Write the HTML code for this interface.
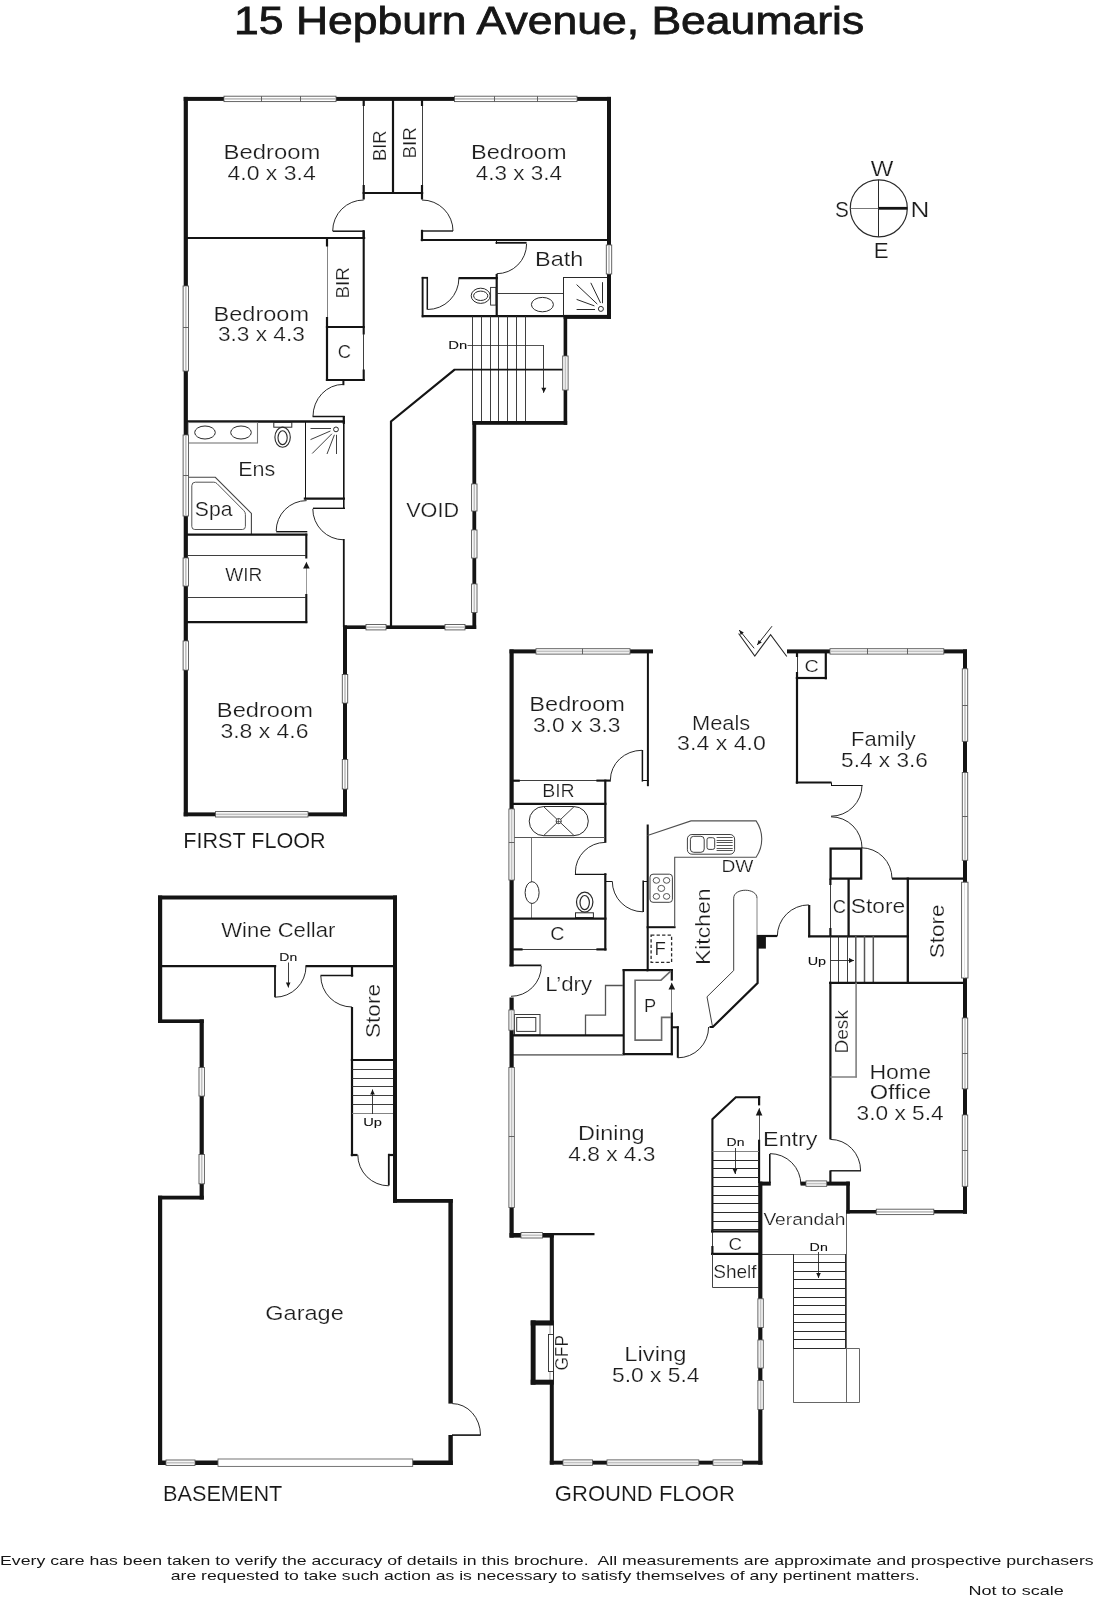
<!DOCTYPE html>
<html><head><meta charset="utf-8"><title>15 Hepburn Avenue, Beaumaris</title>
<style>
html,body{margin:0;padding:0;background:#fff;}
body{width:1096px;height:1600px;overflow:hidden;font-family:"Liberation Sans",sans-serif;}
svg{display:block;font-family:"Liberation Sans",sans-serif;filter:grayscale(1);}
</style></head><body>
<svg width="1096" height="1600" viewBox="0 0 1096 1600">
<rect x="0" y="0" width="1096" height="1600" fill="#fff"/>
<g>
<line x1="363.5" y1="100" x2="363.5" y2="193" stroke="#2a2a2a" stroke-width="1" stroke-linecap="butt" stroke-opacity="0.9"/>
<line x1="363.7" y1="185" x2="363.7" y2="199.5" stroke="#141414" stroke-width="2.2" stroke-linecap="butt"/>
<line x1="363.7" y1="100" x2="363.7" y2="106" stroke="#141414" stroke-width="2.2" stroke-linecap="butt"/>
<line x1="393" y1="100" x2="393" y2="193" stroke="#141414" stroke-width="2.2" stroke-linecap="butt"/>
<line x1="422.5" y1="100" x2="422.5" y2="193" stroke="#2a2a2a" stroke-width="1" stroke-linecap="butt" stroke-opacity="0.9"/>
<line x1="422" y1="185" x2="422" y2="199.5" stroke="#141414" stroke-width="2.2" stroke-linecap="butt"/>
<line x1="422" y1="100" x2="422" y2="106" stroke="#141414" stroke-width="2.2" stroke-linecap="butt"/>
<line x1="362.6" y1="193" x2="423.2" y2="193" stroke="#141414" stroke-width="2.2" stroke-linecap="butt"/>
<path d="M363.7 200 A31 31 0 0 0 332.7 231" fill="none" stroke="#2a2a2a" stroke-width="1" stroke-linejoin="miter"/>
<line x1="332.7" y1="231.2" x2="364" y2="231.2" stroke="#141414" stroke-width="1.5" stroke-linecap="butt"/>
<line x1="363.7" y1="230.4" x2="363.7" y2="239" stroke="#141414" stroke-width="2.2" stroke-linecap="butt"/>
<line x1="187" y1="238" x2="365.2" y2="238" stroke="#141414" stroke-width="2.2" stroke-linecap="butt"/>
<line x1="327.5" y1="238" x2="327.5" y2="327" stroke="#777" stroke-width="1" stroke-linecap="butt" stroke-opacity="0.9"/>
<line x1="327" y1="238" x2="327" y2="246.5" stroke="#141414" stroke-width="2.2" stroke-linecap="butt"/>
<line x1="327" y1="317" x2="327" y2="381" stroke="#141414" stroke-width="2.2" stroke-linecap="butt"/>
<line x1="363.7" y1="230.4" x2="363.7" y2="334.5" stroke="#141414" stroke-width="2.1" stroke-linecap="butt"/>
<line x1="363.5" y1="334" x2="363.5" y2="370" stroke="#2a2a2a" stroke-width="1" stroke-linecap="butt" stroke-opacity="0.9"/>
<line x1="363.7" y1="369.5" x2="363.7" y2="381" stroke="#141414" stroke-width="2.1" stroke-linecap="butt"/>
<line x1="325.9" y1="327" x2="364.7" y2="327" stroke="#141414" stroke-width="2.1" stroke-linecap="butt"/>
<line x1="325.9" y1="380" x2="364.7" y2="380" stroke="#141414" stroke-width="2.1" stroke-linecap="butt"/>
<line x1="343.4" y1="380" x2="343.4" y2="385.2" stroke="#141414" stroke-width="2" stroke-linecap="butt"/>
<path d="M343.2 384.4 A30.2 32 0 0 0 313 416.4" fill="none" stroke="#2a2a2a" stroke-width="1" stroke-linejoin="miter"/>
<line x1="312.6" y1="416.6" x2="344.6" y2="416.6" stroke="#141414" stroke-width="1.5" stroke-linecap="butt"/>
<line x1="187" y1="421.4" x2="345" y2="421.4" stroke="#141414" stroke-width="2.5" stroke-linecap="butt"/>
<line x1="343.8" y1="416" x2="343.8" y2="424" stroke="#141414" stroke-width="2.2" stroke-linecap="butt"/>
<path d="M422 200 A31 31 0 0 1 453 231" fill="none" stroke="#2a2a2a" stroke-width="1" stroke-linejoin="miter"/>
<line x1="422" y1="231" x2="453" y2="231" stroke="#141414" stroke-width="1.4" stroke-linecap="butt"/>
<line x1="422" y1="229.8" x2="422" y2="241.2" stroke="#141414" stroke-width="2.2" stroke-linecap="butt"/>
<line x1="420.8" y1="240" x2="608" y2="240" stroke="#141414" stroke-width="2.2" stroke-linecap="butt"/>
<line x1="495.5" y1="242.8" x2="526.6" y2="242.8" stroke="#141414" stroke-width="1.8" stroke-linecap="butt"/>
<line x1="496.5" y1="240" x2="496.5" y2="244" stroke="#141414" stroke-width="1" stroke-linecap="butt" stroke-opacity="1"/>
<path d="M526.6 243.8 A29.9 29.9 0 0 1 496.7 273.7" fill="none" stroke="#2a2a2a" stroke-width="1" stroke-linejoin="miter"/>
<line x1="496.7" y1="274" x2="496.7" y2="317" stroke="#141414" stroke-width="2.2" stroke-linecap="butt"/>
<line x1="422.6" y1="276.9" x2="422.6" y2="317.3" stroke="#141414" stroke-width="1.9" stroke-linecap="butt"/>
<line x1="421.7" y1="277.8" x2="428" y2="277.8" stroke="#141414" stroke-width="1.8" stroke-linecap="butt"/>
<line x1="427.3" y1="277" x2="427.3" y2="309.6" stroke="#141414" stroke-width="1.5" stroke-linecap="butt"/>
<line x1="421.7" y1="316.1" x2="607.5" y2="316.1" stroke="#141414" stroke-width="2.2" stroke-linecap="butt"/>
<line x1="458.5" y1="278.1" x2="497.8" y2="278.1" stroke="#141414" stroke-width="2.2" stroke-linecap="butt"/>
<path d="M458.9 278.1 A31.4 31.4 0 0 1 427.5 309.5" fill="none" stroke="#2a2a2a" stroke-width="1" stroke-linejoin="miter"/>
<rect x="490.6" y="287.4" width="5.4" height="17.7" fill="none" stroke="#2a2a2a" stroke-width="0.9" rx="0"/>
<ellipse cx="480.7" cy="295.8" rx="9.5" ry="7.6" fill="none" stroke="#2a2a2a" stroke-width="1"/>
<ellipse cx="480.7" cy="295.8" rx="7.1" ry="4.7" fill="none" stroke="#2a2a2a" stroke-width="1"/>
<line x1="496" y1="293.5" x2="563.8" y2="293.5" stroke="#2a2a2a" stroke-width="1" stroke-linecap="butt" stroke-opacity="0.9"/>
<ellipse cx="542.4" cy="304.6" rx="11" ry="7.2" fill="none" stroke="#2a2a2a" stroke-width="1"/>
<line x1="563.5" y1="277" x2="563.5" y2="316" stroke="#2a2a2a" stroke-width="1" stroke-linecap="butt" stroke-opacity="1"/>
<line x1="563.4" y1="277.5" x2="607.3" y2="277.5" stroke="#2a2a2a" stroke-width="1" stroke-linecap="butt" stroke-opacity="1"/>
<ellipse cx="600.9" cy="308.9" rx="2.5" ry="2.5" fill="none" stroke="#2a2a2a" stroke-width="1"/>
<line x1="576.6" y1="284.6" x2="597.3" y2="304.1" stroke="#2a2a2a" stroke-width="1" stroke-linecap="butt"/>
<line x1="590.8" y1="282.8" x2="600.5" y2="302.9" stroke="#2a2a2a" stroke-width="1" stroke-linecap="butt"/>
<line x1="602.5" y1="282.2" x2="602.5" y2="303.2" stroke="#2a2a2a" stroke-width="1" stroke-linecap="butt" stroke-opacity="1"/>
<line x1="576.6" y1="299.4" x2="594.4" y2="305.9" stroke="#2a2a2a" stroke-width="1" stroke-linecap="butt"/>
<line x1="576.6" y1="309.5" x2="595" y2="309.5" stroke="#2a2a2a" stroke-width="1" stroke-linecap="butt" stroke-opacity="1"/>
<line x1="472.5" y1="316" x2="472.5" y2="421.5" stroke="#2a2a2a" stroke-width="1" stroke-linecap="butt" stroke-opacity="0.9"/>
<line x1="481.5" y1="316" x2="481.5" y2="421.5" stroke="#2a2a2a" stroke-width="1" stroke-linecap="butt" stroke-opacity="0.9"/>
<line x1="490.5" y1="316" x2="490.5" y2="421.5" stroke="#2a2a2a" stroke-width="1" stroke-linecap="butt" stroke-opacity="0.9"/>
<line x1="498.5" y1="316" x2="498.5" y2="421.5" stroke="#2a2a2a" stroke-width="1" stroke-linecap="butt" stroke-opacity="0.9"/>
<line x1="507.5" y1="316" x2="507.5" y2="421.5" stroke="#2a2a2a" stroke-width="1" stroke-linecap="butt" stroke-opacity="0.9"/>
<line x1="516.5" y1="316" x2="516.5" y2="421.5" stroke="#2a2a2a" stroke-width="1" stroke-linecap="butt" stroke-opacity="0.9"/>
<line x1="525.5" y1="316" x2="525.5" y2="421.5" stroke="#2a2a2a" stroke-width="1" stroke-linecap="butt" stroke-opacity="0.9"/>
<line x1="454" y1="369.6" x2="563.6" y2="369.6" stroke="#141414" stroke-width="1.6" stroke-linecap="butt"/>
<line x1="467.5" y1="345.5" x2="543.8" y2="345.5" stroke="#2a2a2a" stroke-width="1" stroke-linecap="butt" stroke-opacity="0.8"/>
<line x1="543.5" y1="345.2" x2="543.5" y2="392.8" stroke="#2a2a2a" stroke-width="1" stroke-linecap="butt" stroke-opacity="0.9"/>
<polygon points="543.8,392.8 541.3,387.8 546.3,387.8" fill="#181818"/>
<path d="M454.6 369.6 L391 421.5 L391 626" fill="none" stroke="#141414" stroke-width="2.2" stroke-linejoin="miter"/>
<rect x="188" y="422.5" width="69.5" height="20.5" fill="none" stroke="#777" stroke-width="1.1" rx="0"/>
<ellipse cx="205" cy="432.5" rx="10.3" ry="6.5" fill="none" stroke="#2a2a2a" stroke-width="1"/>
<ellipse cx="241" cy="432.5" rx="10.3" ry="6.5" fill="none" stroke="#2a2a2a" stroke-width="1"/>
<rect x="273.8" y="422.3" width="18" height="4.9" fill="none" stroke="#2a2a2a" stroke-width="1" rx="0"/>
<ellipse cx="282.6" cy="437.2" rx="7.7" ry="10.1" fill="none" stroke="#2a2a2a" stroke-width="1.1"/>
<ellipse cx="282.6" cy="437.7" rx="4.6" ry="6.9" fill="none" stroke="#2a2a2a" stroke-width="1.1"/>
<line x1="305.5" y1="421" x2="305.5" y2="499.5" stroke="#141414" stroke-width="1" stroke-linecap="butt" stroke-opacity="1"/>
<line x1="343.8" y1="421" x2="343.8" y2="508.8" stroke="#141414" stroke-width="1.6" stroke-linecap="butt"/>
<line x1="303.8" y1="498.6" x2="345" y2="498.6" stroke="#141414" stroke-width="2.3" stroke-linecap="butt"/>
<ellipse cx="336" cy="429.4" rx="2.4" ry="2.4" fill="none" stroke="#2a2a2a" stroke-width="1"/>
<line x1="310.5" y1="428.5" x2="331" y2="428.5" stroke="#2a2a2a" stroke-width="1" stroke-linecap="butt" stroke-opacity="0.9"/>
<line x1="310.5" y1="439.6" x2="330.4" y2="431" stroke="#2a2a2a" stroke-width="0.9" stroke-linecap="butt"/>
<line x1="312.2" y1="453.5" x2="331.9" y2="433.8" stroke="#2a2a2a" stroke-width="0.9" stroke-linecap="butt"/>
<line x1="327" y1="454" x2="334.4" y2="434.8" stroke="#2a2a2a" stroke-width="0.9" stroke-linecap="butt"/>
<line x1="336.5" y1="454" x2="336.5" y2="434.8" stroke="#2a2a2a" stroke-width="1" stroke-linecap="butt" stroke-opacity="0.9"/>
<path d="M306.6 500.6 A30.4 30.4 0 0 0 276.2 531" fill="none" stroke="#2a2a2a" stroke-width="1" stroke-linejoin="miter"/>
<line x1="276.2" y1="531.7" x2="307.3" y2="531.7" stroke="#141414" stroke-width="1.4" stroke-linecap="butt"/>
<line x1="313" y1="508.3" x2="345" y2="508.3" stroke="#141414" stroke-width="1.4" stroke-linecap="butt"/>
<path d="M312.8 508.8 A31 31 0 0 0 343.8 539.8" fill="none" stroke="#2a2a2a" stroke-width="1" stroke-linejoin="miter"/>
<line x1="343.8" y1="539" x2="343.8" y2="627" stroke="#141414" stroke-width="1.8" stroke-linecap="butt"/>
<path d="M188 477.3 L215.3 477.3 L251.4 513.4 L251.4 534" fill="none" stroke="#444" stroke-width="1.1" stroke-linejoin="miter"/>
<path d="M195.3 482.2 L213.8 482.2 Q215.6 482.2 217 483.6 L243.8 510.6 Q245.4 512.2 245.4 514.4 L245.4 526.5 Q245.4 529.5 242.4 529.5 L194.8 529.5 Q191.8 529.5 191.8 526.5 L191.8 485.7 Q191.8 482.2 195.3 482.2 Z" fill="none" stroke="#555" stroke-width="1" stroke-linejoin="miter"/>
<line x1="187" y1="534.6" x2="307.3" y2="534.6" stroke="#141414" stroke-width="2.1" stroke-linecap="butt"/>
<line x1="306.3" y1="533.6" x2="306.3" y2="558.5" stroke="#141414" stroke-width="2.1" stroke-linecap="butt"/>
<line x1="306.3" y1="594" x2="306.3" y2="623.1" stroke="#141414" stroke-width="2.1" stroke-linecap="butt"/>
<line x1="187" y1="622.1" x2="307.3" y2="622.1" stroke="#141414" stroke-width="2.1" stroke-linecap="butt"/>
<line x1="188" y1="555.5" x2="306" y2="555.5" stroke="#2a2a2a" stroke-width="1" stroke-linecap="butt" stroke-opacity="0.9"/>
<line x1="188" y1="597.5" x2="306" y2="597.5" stroke="#2a2a2a" stroke-width="1" stroke-linecap="butt" stroke-opacity="0.9"/>
<line x1="306.5" y1="594" x2="306.5" y2="561.9" stroke="#555" stroke-width="1" stroke-linecap="butt" stroke-opacity="0.6"/>
<polygon points="306.4,561.9 309.7,568.4 303.1,568.4" fill="#181818"/>
<line x1="647.9" y1="653" x2="647.9" y2="786.2" stroke="#141414" stroke-width="2" stroke-linecap="butt"/>
<line x1="642.4" y1="750" x2="642.4" y2="781.6" stroke="#141414" stroke-width="1.5" stroke-linecap="butt"/>
<path d="M642 750.3 A31.6 29.6 0 0 0 610.4 779.9" fill="none" stroke="#2a2a2a" stroke-width="1" stroke-linejoin="miter"/>
<line x1="642.4" y1="780.5" x2="648.5" y2="780.5" stroke="#141414" stroke-width="1" stroke-linecap="butt" stroke-opacity="1"/>
<line x1="513" y1="780.5" x2="605" y2="780.5" stroke="#2a2a2a" stroke-width="1" stroke-linecap="butt" stroke-opacity="0.9"/>
<line x1="513" y1="780.7" x2="519.8" y2="780.7" stroke="#141414" stroke-width="2.2" stroke-linecap="butt"/>
<line x1="596.4" y1="780.6" x2="610.8" y2="780.6" stroke="#141414" stroke-width="2.1" stroke-linecap="butt"/>
<line x1="605.3" y1="779.6" x2="605.3" y2="842.8" stroke="#141414" stroke-width="2.2" stroke-linecap="butt"/>
<line x1="513" y1="803.9" x2="606.5" y2="803.9" stroke="#141414" stroke-width="2.3" stroke-linecap="butt"/>
<rect x="529.2" y="806.5" width="59.1" height="29.2" fill="none" stroke="#2a2a2a" stroke-width="1" rx="14.6"/>
<line x1="543.7" y1="806.7" x2="574" y2="835.5" stroke="#2a2a2a" stroke-width="0.9" stroke-linecap="butt"/>
<line x1="543.7" y1="835.5" x2="574" y2="806.7" stroke="#2a2a2a" stroke-width="0.9" stroke-linecap="butt"/>
<ellipse cx="558.7" cy="821.1" rx="2.6" ry="2.6" fill="#fff" stroke="#2a2a2a" stroke-width="0.9"/>
<line x1="556.2" y1="821.5" x2="561.2" y2="821.5" stroke="#2a2a2a" stroke-width="1" stroke-linecap="butt" stroke-opacity="0.6"/>
<line x1="558.5" y1="818.6" x2="558.5" y2="823.6" stroke="#2a2a2a" stroke-width="1" stroke-linecap="butt" stroke-opacity="0.6"/>
<line x1="513" y1="837.5" x2="605" y2="837.5" stroke="#555" stroke-width="1" stroke-linecap="butt" stroke-opacity="1"/>
<line x1="531.5" y1="837.9" x2="531.5" y2="918" stroke="#777" stroke-width="1" stroke-linecap="butt" stroke-opacity="1"/>
<ellipse cx="532.1" cy="892.6" rx="7" ry="10.9" fill="#fff" stroke="#2a2a2a" stroke-width="1"/>
<rect x="575.5" y="912.8" width="17.9" height="4.8" fill="none" stroke="#2a2a2a" stroke-width="1" rx="0"/>
<ellipse cx="584.7" cy="902.1" rx="8.2" ry="10" fill="none" stroke="#2a2a2a" stroke-width="1.2"/>
<ellipse cx="584.7" cy="902.6" rx="4.7" ry="7.1" fill="none" stroke="#2a2a2a" stroke-width="1.2"/>
<path d="M605.2 842.4 A29.8 29.8 0 0 0 575.4 872.2" fill="none" stroke="#2a2a2a" stroke-width="1" stroke-linejoin="miter"/>
<line x1="575.5" y1="872" x2="575.5" y2="874.6" stroke="#2a2a2a" stroke-width="1" stroke-linecap="butt" stroke-opacity="1"/>
<line x1="574.9" y1="874.4" x2="606.4" y2="874.4" stroke="#141414" stroke-width="1.4" stroke-linecap="butt"/>
<line x1="605.3" y1="873.2" x2="605.3" y2="950.5" stroke="#141414" stroke-width="2.2" stroke-linecap="butt"/>
<line x1="606" y1="881.5" x2="612" y2="881.5" stroke="#141414" stroke-width="1" stroke-linecap="butt" stroke-opacity="1"/>
<path d="M612.3 881.2 A30.6 30.6 0 0 0 642.9 911.8" fill="none" stroke="#2a2a2a" stroke-width="1" stroke-linejoin="miter"/>
<line x1="643.2" y1="880.6" x2="643.2" y2="912" stroke="#141414" stroke-width="1.6" stroke-linecap="butt"/>
<line x1="643" y1="881.5" x2="647.5" y2="881.5" stroke="#141414" stroke-width="1" stroke-linecap="butt" stroke-opacity="1"/>
<line x1="513" y1="918.6" x2="606.5" y2="918.6" stroke="#141414" stroke-width="2.3" stroke-linecap="butt"/>
<line x1="513" y1="949.5" x2="605" y2="949.5" stroke="#2a2a2a" stroke-width="1" stroke-linecap="butt" stroke-opacity="0.9"/>
<line x1="513" y1="949.4" x2="522.6" y2="949.4" stroke="#141414" stroke-width="2.2" stroke-linecap="butt"/>
<line x1="596.4" y1="949.4" x2="606.5" y2="949.4" stroke="#141414" stroke-width="2.2" stroke-linecap="butt"/>
<line x1="647.7" y1="824.5" x2="647.7" y2="971.2" stroke="#141414" stroke-width="2.1" stroke-linecap="butt"/>
<path d="M647.5 835.5 L691 820.9 L756.1 820.9 A32.1 32.1 0 0 1 756.1 857.3 L674.7 857.3 L674.7 926" fill="none" stroke="#505050" stroke-width="1.1" stroke-linejoin="miter"/>
<line x1="646.6" y1="927.2" x2="675.6" y2="927.2" stroke="#141414" stroke-width="2" stroke-linecap="butt"/>
<rect x="687.4" y="834.5" width="47.2" height="19.7" fill="none" stroke="#2a2a2a" stroke-width="0.9" rx="4.5"/>
<rect x="690.4" y="836.3" width="13.8" height="16" fill="none" stroke="#2a2a2a" stroke-width="0.9" rx="3.3"/>
<rect x="707" y="837.7" width="7.7" height="11.7" fill="none" stroke="#2a2a2a" stroke-width="0.9" rx="2"/>
<line x1="716.6" y1="837.5" x2="732.7" y2="837.5" stroke="#2a2a2a" stroke-width="1" stroke-linecap="butt" stroke-opacity="0.8"/>
<line x1="716.6" y1="840.5" x2="732.7" y2="840.5" stroke="#2a2a2a" stroke-width="1" stroke-linecap="butt" stroke-opacity="0.8"/>
<line x1="716.6" y1="842.5" x2="732.7" y2="842.5" stroke="#2a2a2a" stroke-width="1" stroke-linecap="butt" stroke-opacity="0.8"/>
<line x1="716.6" y1="845.5" x2="732.7" y2="845.5" stroke="#2a2a2a" stroke-width="1" stroke-linecap="butt" stroke-opacity="0.8"/>
<line x1="716.6" y1="848.5" x2="732.7" y2="848.5" stroke="#2a2a2a" stroke-width="1" stroke-linecap="butt" stroke-opacity="0.8"/>
<line x1="716.6" y1="850.5" x2="732.7" y2="850.5" stroke="#2a2a2a" stroke-width="1" stroke-linecap="butt" stroke-opacity="0.8"/>
<rect x="650" y="874.2" width="22.4" height="28.1" fill="none" stroke="#2a2a2a" stroke-width="0.9" rx="3"/>
<ellipse cx="656.4" cy="880.4" rx="3.2" ry="2.88" fill="none" stroke="#2a2a2a" stroke-width="0.8"/>
<ellipse cx="666.6" cy="880.4" rx="3.2" ry="2.88" fill="none" stroke="#2a2a2a" stroke-width="0.8"/>
<ellipse cx="661.3" cy="888.4" rx="3.4" ry="3.06" fill="none" stroke="#2a2a2a" stroke-width="0.8"/>
<ellipse cx="656.4" cy="896.4" rx="3.2" ry="2.88" fill="none" stroke="#2a2a2a" stroke-width="0.8"/>
<ellipse cx="666.6" cy="896.4" rx="3.2" ry="2.88" fill="none" stroke="#2a2a2a" stroke-width="0.8"/>
<rect x="651.1" y="935.2" width="20.5" height="27.2" fill="none" stroke="#2a2a2a" stroke-width="1.3" rx="0" stroke-dasharray="3.3 2.2"/>
<line x1="646.4" y1="970.1" x2="672.9" y2="970.1" stroke="#141414" stroke-width="2.2" stroke-linecap="butt"/>
<line x1="622.6" y1="970.1" x2="648" y2="970.1" stroke="#141414" stroke-width="2.2" stroke-linecap="butt"/>
<line x1="623.7" y1="969" x2="623.7" y2="1055.2" stroke="#141414" stroke-width="2.1" stroke-linecap="butt"/>
<line x1="622.6" y1="1054.1" x2="672.9" y2="1054.1" stroke="#141414" stroke-width="2.1" stroke-linecap="butt"/>
<line x1="671.8" y1="969" x2="671.8" y2="980.6" stroke="#141414" stroke-width="2.2" stroke-linecap="butt"/>
<line x1="671.8" y1="1012.5" x2="671.8" y2="1055.2" stroke="#141414" stroke-width="2.2" stroke-linecap="butt"/>
<line x1="671.5" y1="1012.5" x2="671.5" y2="982.8" stroke="#444" stroke-width="1" stroke-linecap="butt" stroke-opacity="0.7"/>
<polygon points="671.8,982.8 675.1,989.4 668.5,989.4" fill="#181818"/>
<path d="M671 970.8 L661 980.2 L635.1 980.2 L635.1 1040.1 L661.6 1040.1 L661.6 1017.4 L671 1017.4" fill="none" stroke="#6a6a6a" stroke-width="1.6" stroke-linejoin="miter"/>
<line x1="671.8" y1="1027.3" x2="678.8" y2="1027.3" stroke="#141414" stroke-width="2" stroke-linecap="butt"/>
<line x1="677.8" y1="1026.3" x2="677.8" y2="1057.8" stroke="#141414" stroke-width="2" stroke-linecap="butt"/>
<path d="M677.8 1057.8 A30.8 30.8 0 0 0 708.6 1027" fill="none" stroke="#2a2a2a" stroke-width="1" stroke-linejoin="miter"/>
<path d="M757 936 L757 898.2" fill="none" stroke="#777" stroke-width="0.9" stroke-linejoin="miter"/>
<path d="M733.7 970.5 L733.7 898.2 C733.7 887.6 757 887.6 757 898.2" fill="none" stroke="#2a2a2a" stroke-width="0.9" stroke-linejoin="miter"/>
<path d="M733.7 970.5 L707 996.8 L712.5 1026.7" fill="none" stroke="#2a2a2a" stroke-width="0.9" stroke-linejoin="miter"/>
<path d="M757.6 935.5 L757.6 983 L712.8 1027 L709.5 1027" fill="none" stroke="#141414" stroke-width="2.2" stroke-linejoin="miter"/>
<line x1="757" y1="936" x2="777" y2="936" stroke="#141414" stroke-width="2.2" stroke-linecap="butt"/>
<path d="M777.3 936.4 A31.5 31.5 0 0 1 808.8 904.9" fill="none" stroke="#2a2a2a" stroke-width="1" stroke-linejoin="miter"/>
<line x1="809.2" y1="905" x2="809.2" y2="937.2" stroke="#141414" stroke-width="2.2" stroke-linecap="butt"/>
<line x1="808" y1="936.3" x2="909" y2="936.3" stroke="#141414" stroke-width="2.3" stroke-linecap="butt"/>
<line x1="509.5" y1="965.4" x2="541.3" y2="965.4" stroke="#141414" stroke-width="1.6" stroke-linecap="butt"/>
<path d="M541.3 966 A30.3 30.3 0 0 1 511 996.3" fill="none" stroke="#2a2a2a" stroke-width="1" stroke-linejoin="miter"/>
<rect x="514.5" y="1014.5" width="25.5" height="20.5" fill="none" stroke="#3a3a3a" stroke-width="1" rx="0"/>
<rect x="516.7" y="1017.5" width="19.1" height="13.9" fill="none" stroke="#3a3a3a" stroke-width="1" rx="0"/>
<path d="M623 985.5 L605.5 985.5 L605.5 1015.2 L585.5 1015.2 L585.5 1035" fill="none" stroke="#555" stroke-width="1.3" stroke-linejoin="miter"/>
<line x1="513" y1="1035.3" x2="624" y2="1035.3" stroke="#141414" stroke-width="2.2" stroke-linecap="butt"/>
<line x1="513" y1="1054.9" x2="623" y2="1054.9" stroke="#7a7a7a" stroke-width="1.7" stroke-linecap="butt"/>
<line x1="553" y1="1234.2" x2="594.5" y2="1234.2" stroke="#141414" stroke-width="2.2" stroke-linecap="butt"/>
<line x1="797.5" y1="653" x2="797.5" y2="676" stroke="#2a2a2a" stroke-width="1" stroke-linecap="butt" stroke-opacity="0.9"/>
<line x1="797" y1="653" x2="797" y2="657" stroke="#141414" stroke-width="2.2" stroke-linecap="butt"/>
<line x1="825.8" y1="653" x2="825.8" y2="679.3" stroke="#141414" stroke-width="2.2" stroke-linecap="butt"/>
<line x1="795.8" y1="678" x2="827" y2="678" stroke="#141414" stroke-width="2.2" stroke-linecap="butt"/>
<line x1="797" y1="672" x2="797" y2="783.7" stroke="#141414" stroke-width="2.2" stroke-linecap="butt"/>
<line x1="795.8" y1="782.5" x2="831.5" y2="782.5" stroke="#141414" stroke-width="2.2" stroke-linecap="butt"/>
<line x1="831.5" y1="782.5" x2="831.5" y2="785.6" stroke="#141414" stroke-width="1" stroke-linecap="butt" stroke-opacity="1"/>
<line x1="831" y1="785.5" x2="862.5" y2="785.5" stroke="#141414" stroke-width="1" stroke-linecap="butt" stroke-opacity="1"/>
<path d="M862 785.2 A31 31 0 0 1 831 816.2" fill="none" stroke="#2a2a2a" stroke-width="1" stroke-linejoin="miter"/>
<path d="M831 816.8 A31 31 0 0 1 862 847.8" fill="none" stroke="#2a2a2a" stroke-width="1" stroke-linejoin="miter"/>
<rect x="830.6" y="848.6" width="30.6" height="30" fill="none" stroke="#141414" stroke-width="2.3" rx="0"/>
<path d="M861.2 847.8 A30.8 30.8 0 0 1 892 878.6" fill="none" stroke="#2a2a2a" stroke-width="1" stroke-linejoin="miter"/>
<line x1="892" y1="878.6" x2="964" y2="878.6" stroke="#141414" stroke-width="2.3" stroke-linecap="butt"/>
<line x1="830.5" y1="878.6" x2="830.5" y2="936" stroke="#2a2a2a" stroke-width="1" stroke-linecap="butt" stroke-opacity="0.9"/>
<line x1="830.4" y1="878.6" x2="830.4" y2="885" stroke="#141414" stroke-width="2.2" stroke-linecap="butt"/>
<line x1="830.4" y1="928" x2="830.4" y2="936" stroke="#141414" stroke-width="2.2" stroke-linecap="butt"/>
<line x1="848.6" y1="878.6" x2="848.6" y2="937.2" stroke="#141414" stroke-width="2.3" stroke-linecap="butt"/>
<line x1="907.8" y1="877.5" x2="907.8" y2="983.8" stroke="#141414" stroke-width="2.3" stroke-linecap="butt"/>
<line x1="830.5" y1="936" x2="830.5" y2="982.5" stroke="#2a2a2a" stroke-width="1" stroke-linecap="butt" stroke-opacity="0.9"/>
<line x1="838.5" y1="936" x2="838.5" y2="982.5" stroke="#2a2a2a" stroke-width="1" stroke-linecap="butt" stroke-opacity="0.9"/>
<line x1="847.5" y1="936" x2="847.5" y2="982.5" stroke="#2a2a2a" stroke-width="1" stroke-linecap="butt" stroke-opacity="0.9"/>
<line x1="855.8" y1="936" x2="855.8" y2="982.5" stroke="#555" stroke-width="1.5" stroke-linecap="butt"/>
<line x1="864.5" y1="936" x2="864.5" y2="982.5" stroke="#555" stroke-width="1.5" stroke-linecap="butt"/>
<line x1="873.3" y1="936" x2="873.3" y2="982.5" stroke="#555" stroke-width="1.5" stroke-linecap="butt"/>
<line x1="830.4" y1="960.5" x2="854" y2="960.5" stroke="#2a2a2a" stroke-width="1" stroke-linecap="butt" stroke-opacity="0.9"/>
<polygon points="854,960.6 849,963.1 849,958.1" fill="#181818"/>
<line x1="829" y1="982.8" x2="964" y2="982.8" stroke="#141414" stroke-width="2.2" stroke-linecap="butt"/>
<line x1="830.4" y1="981.8" x2="830.4" y2="1139.4" stroke="#141414" stroke-width="2.2" stroke-linecap="butt"/>
<line x1="856.1" y1="982.5" x2="856.1" y2="1077.6" stroke="#808080" stroke-width="1.6" stroke-linecap="butt"/>
<line x1="830.4" y1="1077" x2="856.8" y2="1077" stroke="#808080" stroke-width="1.5" stroke-linecap="butt"/>
<path d="M830.4 1139.4 A30.2 31.2 0 0 1 860.6 1170.6" fill="none" stroke="#2a2a2a" stroke-width="1" stroke-linejoin="miter"/>
<line x1="830.4" y1="1170.8" x2="861" y2="1170.8" stroke="#141414" stroke-width="1.4" stroke-linecap="butt"/>
<line x1="830.4" y1="1170.4" x2="830.4" y2="1183" stroke="#141414" stroke-width="2.2" stroke-linecap="butt"/>
<line x1="769.8" y1="1154" x2="769.8" y2="1183" stroke="#141414" stroke-width="1.6" stroke-linecap="butt"/>
<path d="M769.9 1153.6 A31 31 0 0 1 800.9 1184.6" fill="none" stroke="#2a2a2a" stroke-width="1" stroke-linejoin="miter"/>
<path d="M712.4 1232.5 L712.4 1119.3 L735.8 1097.2 L760.2 1097.2" fill="none" stroke="#141414" stroke-width="2.1" stroke-linejoin="miter"/>
<line x1="759.1" y1="1096.2" x2="759.1" y2="1105.4" stroke="#141414" stroke-width="2.2" stroke-linecap="butt"/>
<line x1="759.5" y1="1140" x2="759.5" y2="1108.2" stroke="#2a2a2a" stroke-width="1" stroke-linecap="butt" stroke-opacity="0.8"/>
<polygon points="759.1,1108.2 762.4,1115.5 755.8,1115.5" fill="#181818"/>
<line x1="759.1" y1="1139.7" x2="759.1" y2="1183" stroke="#141414" stroke-width="2.1" stroke-linecap="butt"/>
<line x1="712.4" y1="1151.5" x2="759" y2="1151.5" stroke="#777" stroke-width="1" stroke-linecap="butt" stroke-opacity="0.9"/>
<line x1="712.4" y1="1160.5" x2="759" y2="1160.5" stroke="#2a2a2a" stroke-width="1" stroke-linecap="butt" stroke-opacity="1"/>
<line x1="712.4" y1="1168.5" x2="759" y2="1168.5" stroke="#2a2a2a" stroke-width="1" stroke-linecap="butt" stroke-opacity="1"/>
<line x1="712.4" y1="1177.5" x2="759" y2="1177.5" stroke="#2a2a2a" stroke-width="1" stroke-linecap="butt" stroke-opacity="1"/>
<line x1="712.4" y1="1186.5" x2="759" y2="1186.5" stroke="#2a2a2a" stroke-width="1" stroke-linecap="butt" stroke-opacity="1"/>
<line x1="712.4" y1="1195.5" x2="759" y2="1195.5" stroke="#2a2a2a" stroke-width="1" stroke-linecap="butt" stroke-opacity="1"/>
<line x1="712.4" y1="1203.5" x2="759" y2="1203.5" stroke="#2a2a2a" stroke-width="1" stroke-linecap="butt" stroke-opacity="1"/>
<line x1="712.4" y1="1212.5" x2="759" y2="1212.5" stroke="#2a2a2a" stroke-width="1" stroke-linecap="butt" stroke-opacity="1"/>
<line x1="712.4" y1="1221.5" x2="759" y2="1221.5" stroke="#2a2a2a" stroke-width="1" stroke-linecap="butt" stroke-opacity="1"/>
<line x1="712.4" y1="1229.5" x2="759" y2="1229.5" stroke="#2a2a2a" stroke-width="1" stroke-linecap="butt" stroke-opacity="1"/>
<line x1="711.1" y1="1231.3" x2="759" y2="1231.3" stroke="#141414" stroke-width="2.2" stroke-linecap="butt"/>
<line x1="711.1" y1="1253.8" x2="759" y2="1253.8" stroke="#141414" stroke-width="2.2" stroke-linecap="butt"/>
<line x1="712.5" y1="1231.3" x2="712.5" y2="1255" stroke="#2a2a2a" stroke-width="1" stroke-linecap="butt" stroke-opacity="0.9"/>
<line x1="712.4" y1="1246" x2="712.4" y2="1255" stroke="#141414" stroke-width="2.2" stroke-linecap="butt"/>
<path d="M712.5 1254 L712.5 1287.5 L758.5 1287.5" fill="none" stroke="#444" stroke-width="1" stroke-linejoin="miter"/>
<line x1="735.5" y1="1148" x2="735.5" y2="1174" stroke="#2a2a2a" stroke-width="1" stroke-linecap="butt" stroke-opacity="0.9"/>
<polygon points="735,1174 732.7,1169 737.3,1169" fill="#181818"/>
<line x1="762" y1="1254.5" x2="793.3" y2="1254.5" stroke="#555" stroke-width="1" stroke-linecap="butt" stroke-opacity="1"/>
<line x1="846.5" y1="1213" x2="846.5" y2="1402.5" stroke="#666" stroke-width="1" stroke-linecap="butt" stroke-opacity="1"/>
<line x1="793.5" y1="1254.1" x2="793.5" y2="1402.5" stroke="#666" stroke-width="1" stroke-linecap="butt" stroke-opacity="1"/>
<line x1="793.3" y1="1254.5" x2="845.8" y2="1254.5" stroke="#777" stroke-width="1" stroke-linecap="butt" stroke-opacity="0.9"/>
<line x1="793.3" y1="1262.5" x2="845.8" y2="1262.5" stroke="#2a2a2a" stroke-width="1" stroke-linecap="butt" stroke-opacity="1"/>
<line x1="793.3" y1="1271.5" x2="845.8" y2="1271.5" stroke="#2a2a2a" stroke-width="1" stroke-linecap="butt" stroke-opacity="1"/>
<line x1="793.3" y1="1279.5" x2="845.8" y2="1279.5" stroke="#2a2a2a" stroke-width="1" stroke-linecap="butt" stroke-opacity="1"/>
<line x1="793.3" y1="1288.5" x2="845.8" y2="1288.5" stroke="#2a2a2a" stroke-width="1" stroke-linecap="butt" stroke-opacity="1"/>
<line x1="793.3" y1="1297.5" x2="845.8" y2="1297.5" stroke="#2a2a2a" stroke-width="1" stroke-linecap="butt" stroke-opacity="1"/>
<line x1="793.3" y1="1305.5" x2="845.8" y2="1305.5" stroke="#2a2a2a" stroke-width="1" stroke-linecap="butt" stroke-opacity="1"/>
<line x1="793.3" y1="1314.5" x2="845.8" y2="1314.5" stroke="#2a2a2a" stroke-width="1" stroke-linecap="butt" stroke-opacity="1"/>
<line x1="793.3" y1="1322.5" x2="845.8" y2="1322.5" stroke="#2a2a2a" stroke-width="1" stroke-linecap="butt" stroke-opacity="1"/>
<line x1="793.3" y1="1331.5" x2="845.8" y2="1331.5" stroke="#2a2a2a" stroke-width="1" stroke-linecap="butt" stroke-opacity="1"/>
<line x1="793.3" y1="1339.5" x2="845.8" y2="1339.5" stroke="#2a2a2a" stroke-width="1" stroke-linecap="butt" stroke-opacity="1"/>
<line x1="793.3" y1="1348.5" x2="845.8" y2="1348.5" stroke="#2a2a2a" stroke-width="1" stroke-linecap="butt" stroke-opacity="1"/>
<line x1="793.5" y1="1254.1" x2="793.5" y2="1348.5" stroke="#2a2a2a" stroke-width="1" stroke-linecap="butt" stroke-opacity="1"/>
<line x1="845.5" y1="1254.1" x2="845.5" y2="1348.5" stroke="#2a2a2a" stroke-width="1" stroke-linecap="butt" stroke-opacity="1"/>
<path d="M845.8 1348.5 L859.5 1348.5 L859.5 1402.5 L793.3 1402.5" fill="none" stroke="#666" stroke-width="1" stroke-linejoin="miter"/>
<line x1="818.5" y1="1252" x2="818.5" y2="1278" stroke="#2a2a2a" stroke-width="1" stroke-linecap="butt" stroke-opacity="0.9"/>
<polygon points="818.5,1278 816.2,1273 820.8,1273" fill="#181818"/>
<line x1="452" y1="1435.1" x2="480.8" y2="1435.1" stroke="#141414" stroke-width="1.6" stroke-linecap="butt"/>
<path d="M452.3 1403.6 A28.2 31.5 0 0 1 480.5 1435" fill="none" stroke="#2a2a2a" stroke-width="1" stroke-linejoin="miter"/>
<line x1="162" y1="966.2" x2="276.2" y2="966.2" stroke="#141414" stroke-width="2.2" stroke-linecap="butt"/>
<line x1="305.5" y1="966.2" x2="394" y2="966.2" stroke="#141414" stroke-width="2.2" stroke-linecap="butt"/>
<line x1="275" y1="965" x2="275" y2="997.2" stroke="#141414" stroke-width="1.8" stroke-linecap="butt"/>
<path d="M275 997.2 A31 31 0 0 0 306 966.2" fill="none" stroke="#2a2a2a" stroke-width="1" stroke-linejoin="miter"/>
<line x1="288.5" y1="962.5" x2="288.5" y2="987.5" stroke="#2a2a2a" stroke-width="1" stroke-linecap="butt" stroke-opacity="0.9"/>
<polygon points="288.2,987.5 285.9,982.5 290.5,982.5" fill="#181818"/>
<line x1="352" y1="965" x2="352" y2="976.7" stroke="#141414" stroke-width="2.2" stroke-linecap="butt"/>
<line x1="320.5" y1="975.5" x2="353.2" y2="975.5" stroke="#141414" stroke-width="1.6" stroke-linecap="butt"/>
<path d="M320.8 975.8 A31.2 31.2 0 0 0 352 1007" fill="none" stroke="#2a2a2a" stroke-width="1" stroke-linejoin="miter"/>
<line x1="352" y1="1007" x2="352" y2="1156.2" stroke="#141414" stroke-width="2.2" stroke-linecap="butt"/>
<line x1="350.8" y1="1060" x2="394" y2="1060" stroke="#141414" stroke-width="2.2" stroke-linecap="butt"/>
<line x1="352" y1="1069.5" x2="393" y2="1069.5" stroke="#2a2a2a" stroke-width="1" stroke-linecap="butt" stroke-opacity="0.9"/>
<line x1="352" y1="1078.5" x2="393" y2="1078.5" stroke="#2a2a2a" stroke-width="1" stroke-linecap="butt" stroke-opacity="0.9"/>
<line x1="352" y1="1086.5" x2="393" y2="1086.5" stroke="#2a2a2a" stroke-width="1" stroke-linecap="butt" stroke-opacity="0.9"/>
<line x1="352" y1="1095.5" x2="393" y2="1095.5" stroke="#2a2a2a" stroke-width="1" stroke-linecap="butt" stroke-opacity="0.9"/>
<line x1="352" y1="1104.5" x2="393" y2="1104.5" stroke="#2a2a2a" stroke-width="1" stroke-linecap="butt" stroke-opacity="0.9"/>
<line x1="352" y1="1113.5" x2="393" y2="1113.5" stroke="#777" stroke-width="1" stroke-linecap="butt" stroke-opacity="0.9"/>
<line x1="372.5" y1="1114" x2="372.5" y2="1089.5" stroke="#2a2a2a" stroke-width="1" stroke-linecap="butt" stroke-opacity="0.9"/>
<polygon points="372.5,1089.5 374.8,1094.5 370.2,1094.5" fill="#181818"/>
<line x1="350.8" y1="1155" x2="357.5" y2="1155" stroke="#141414" stroke-width="2.2" stroke-linecap="butt"/>
<line x1="388.5" y1="1155" x2="394" y2="1155" stroke="#141414" stroke-width="2.2" stroke-linecap="butt"/>
<line x1="388.8" y1="1153.8" x2="388.8" y2="1185.5" stroke="#141414" stroke-width="1.8" stroke-linecap="butt"/>
<path d="M357.8 1154.8 A31 31 0 0 0 388.8 1185.8" fill="none" stroke="#2a2a2a" stroke-width="1" stroke-linejoin="miter"/>
<text x="234.03" y="33.9" font-size="39.4" textLength="630.17" lengthAdjust="spacingAndGlyphs" fill="#161616" font-weight="normal" xml:space="preserve" stroke="#161616" stroke-width="0.8">15 Hepburn Avenue, Beaumaris</text>
<ellipse cx="878.8" cy="208.3" rx="28.5" ry="28.5" fill="none" stroke="#2a2a2a" stroke-width="1.2"/>
<line x1="878.5" y1="179.8" x2="878.5" y2="236.8" stroke="#2a2a2a" stroke-width="1" stroke-linecap="butt" stroke-opacity="1"/>
<line x1="850.3" y1="208.5" x2="878.8" y2="208.5" stroke="#555" stroke-width="1" stroke-linecap="butt" stroke-opacity="0.8"/>
<line x1="878.8" y1="208.3" x2="907.3" y2="208.3" stroke="#141414" stroke-width="2.8" stroke-linecap="butt"/>
<text x="870.89" y="176" font-size="21.8" textLength="22.59" lengthAdjust="spacingAndGlyphs" fill="#1c1c1c" font-weight="normal" xml:space="preserve" stroke="#fff" stroke-width="0.22">W</text>
<text x="835.05" y="216.5" font-size="21.8" textLength="13.9" lengthAdjust="spacingAndGlyphs" fill="#1c1c1c" font-weight="normal" xml:space="preserve" stroke="#fff" stroke-width="0.22">S</text>
<text x="910.56" y="216.5" font-size="21.8" textLength="18.88" lengthAdjust="spacingAndGlyphs" fill="#1c1c1c" font-weight="normal" xml:space="preserve" stroke="#fff" stroke-width="0.22">N</text>
<text x="873.67" y="258" font-size="21.8" textLength="14.89" lengthAdjust="spacingAndGlyphs" fill="#1c1c1c" font-weight="normal" xml:space="preserve" stroke="#fff" stroke-width="0.22">E</text>
<text x="223.54" y="158.8" font-size="20.4" textLength="96.83" lengthAdjust="spacingAndGlyphs" fill="#1c1c1c" font-weight="normal" xml:space="preserve" stroke="#fff" stroke-width="0.22">Bedroom</text>
<text x="227.47" y="179.5" font-size="20.4" textLength="88.2" lengthAdjust="spacingAndGlyphs" fill="#1c1c1c" font-weight="normal" xml:space="preserve" stroke="#fff" stroke-width="0.22">4.0 x 3.4</text>
<text x="471.07" y="158.8" font-size="20.4" textLength="95.48" lengthAdjust="spacingAndGlyphs" fill="#1c1c1c" font-weight="normal" xml:space="preserve" stroke="#fff" stroke-width="0.22">Bedroom</text>
<text x="475.78" y="179.5" font-size="20.4" textLength="86.17" lengthAdjust="spacingAndGlyphs" fill="#1c1c1c" font-weight="normal" xml:space="preserve" stroke="#fff" stroke-width="0.22">4.3 x 3.4</text>
<text x="213.57" y="320.5" font-size="20.4" textLength="95.48" lengthAdjust="spacingAndGlyphs" fill="#1c1c1c" font-weight="normal" xml:space="preserve" stroke="#fff" stroke-width="0.22">Bedroom</text>
<text x="217.94" y="341.3" font-size="20.4" textLength="86.86" lengthAdjust="spacingAndGlyphs" fill="#1c1c1c" font-weight="normal" xml:space="preserve" stroke="#fff" stroke-width="0.22">3.3 x 4.3</text>
<text x="216.86" y="717" font-size="20.4" textLength="96" lengthAdjust="spacingAndGlyphs" fill="#1c1c1c" font-weight="normal" xml:space="preserve" stroke="#fff" stroke-width="0.22">Bedroom</text>
<text x="220.43" y="737.5" font-size="20.4" textLength="88.08" lengthAdjust="spacingAndGlyphs" fill="#1c1c1c" font-weight="normal" xml:space="preserve" stroke="#fff" stroke-width="0.22">3.8 x 4.6</text>
<text transform="translate(385.5 161) rotate(-90)" x="0" y="0" font-size="18.6" textLength="30.55" lengthAdjust="spacingAndGlyphs" fill="#1c1c1c" stroke="#fff" stroke-width="0.22">BIR</text>
<text transform="translate(416 158.55) rotate(-90)" x="0" y="0" font-size="18.6" textLength="31.42" lengthAdjust="spacingAndGlyphs" fill="#1c1c1c" stroke="#fff" stroke-width="0.22">BIR</text>
<text transform="translate(349.3 298.55) rotate(-90)" x="0" y="0" font-size="18.6" textLength="31.42" lengthAdjust="spacingAndGlyphs" fill="#1c1c1c" stroke="#fff" stroke-width="0.22">BIR</text>
<text x="337.86" y="358" font-size="17.5" textLength="13.34" lengthAdjust="spacingAndGlyphs" fill="#1c1c1c" font-weight="normal" xml:space="preserve" stroke="#fff" stroke-width="0.22">C</text>
<text x="535.08" y="266.3" font-size="20.4" textLength="48.25" lengthAdjust="spacingAndGlyphs" fill="#1c1c1c" font-weight="normal" xml:space="preserve" stroke="#fff" stroke-width="0.22">Bath</text>
<text x="238.24" y="476.3" font-size="20.4" textLength="37.04" lengthAdjust="spacingAndGlyphs" fill="#1c1c1c" font-weight="normal" xml:space="preserve" stroke="#fff" stroke-width="0.22">Ens</text>
<text x="194.84" y="516.3" font-size="20.4" textLength="37.66" lengthAdjust="spacingAndGlyphs" fill="#1c1c1c" font-weight="normal" xml:space="preserve" stroke="#fff" stroke-width="0.22">Spa</text>
<text x="225.32" y="580.8" font-size="17.5" textLength="37.07" lengthAdjust="spacingAndGlyphs" fill="#1c1c1c" font-weight="normal" xml:space="preserve" stroke="#fff" stroke-width="0.22">WIR</text>
<text x="406.21" y="517" font-size="20.4" textLength="52.83" lengthAdjust="spacingAndGlyphs" fill="#1c1c1c" font-weight="normal" xml:space="preserve" stroke="#fff" stroke-width="0.22">VOID</text>
<text x="448.28" y="348.9" font-size="10.6" textLength="18.98" lengthAdjust="spacingAndGlyphs" fill="#111" font-weight="normal" xml:space="preserve" stroke="#111" stroke-width="0.08">Dn</text>
<text x="183.23" y="847.6" font-size="21.2" textLength="142.37" lengthAdjust="spacingAndGlyphs" fill="#181818" font-weight="normal" xml:space="preserve" stroke="#fff" stroke-width="0.12">FIRST FLOOR</text>
<text x="529.37" y="711" font-size="20.4" textLength="95.48" lengthAdjust="spacingAndGlyphs" fill="#1c1c1c" font-weight="normal" xml:space="preserve" stroke="#fff" stroke-width="0.22">Bedroom</text>
<text x="532.93" y="731.5" font-size="20.4" textLength="87.57" lengthAdjust="spacingAndGlyphs" fill="#1c1c1c" font-weight="normal" xml:space="preserve" stroke="#fff" stroke-width="0.22">3.0 x 3.3</text>
<text x="692.01" y="729.9" font-size="20.4" textLength="58.28" lengthAdjust="spacingAndGlyphs" fill="#1c1c1c" font-weight="normal" xml:space="preserve" stroke="#fff" stroke-width="0.22">Meals</text>
<text x="677.12" y="749.8" font-size="20.4" textLength="88.79" lengthAdjust="spacingAndGlyphs" fill="#1c1c1c" font-weight="normal" xml:space="preserve" stroke="#fff" stroke-width="0.22">3.4 x 4.0</text>
<text x="542.2" y="797" font-size="18.4" textLength="32.5" lengthAdjust="spacingAndGlyphs" fill="#1c1c1c" font-weight="normal" xml:space="preserve" stroke="#fff" stroke-width="0.22">BIR</text>
<text x="550.3" y="939.5" font-size="17.8" textLength="14.25" lengthAdjust="spacingAndGlyphs" fill="#1c1c1c" font-weight="normal" xml:space="preserve" stroke="#fff" stroke-width="0.22">C</text>
<text x="545.23" y="991.3" font-size="20.4" textLength="46.81" lengthAdjust="spacingAndGlyphs" fill="#1c1c1c" font-weight="normal" xml:space="preserve" stroke="#fff" stroke-width="0.22">L’dry</text>
<text x="654.57" y="955.1" font-size="18.2" textLength="11.37" lengthAdjust="spacingAndGlyphs" fill="#1c1c1c" font-weight="normal" xml:space="preserve" stroke="#fff" stroke-width="0.22">F</text>
<text x="644.1" y="1012.4" font-size="18.4" textLength="12.16" lengthAdjust="spacingAndGlyphs" fill="#1c1c1c" font-weight="normal" xml:space="preserve" stroke="#fff" stroke-width="0.22">P</text>
<text transform="translate(710.2 965.08) rotate(-90)" x="0" y="0" font-size="20.4" textLength="76.57" lengthAdjust="spacingAndGlyphs" fill="#1c1c1c" stroke="#fff" stroke-width="0.22">Kitchen</text>
<text x="721.43" y="871.7" font-size="17.3" textLength="31.94" lengthAdjust="spacingAndGlyphs" fill="#1c1c1c" font-weight="normal" xml:space="preserve" stroke="#fff" stroke-width="0.22">DW</text>
<text x="851.1" y="746.3" font-size="20.4" textLength="64.75" lengthAdjust="spacingAndGlyphs" fill="#1c1c1c" font-weight="normal" xml:space="preserve" stroke="#fff" stroke-width="0.22">Family</text>
<text x="841.09" y="766.8" font-size="20.4" textLength="86.8" lengthAdjust="spacingAndGlyphs" fill="#1c1c1c" font-weight="normal" xml:space="preserve" stroke="#fff" stroke-width="0.22">5.4 x 3.6</text>
<text x="804.5" y="672" font-size="17.4" textLength="14.25" lengthAdjust="spacingAndGlyphs" fill="#1c1c1c" font-weight="normal" xml:space="preserve" stroke="#fff" stroke-width="0.22">C</text>
<text x="832.86" y="912.5" font-size="17.6" textLength="13.34" lengthAdjust="spacingAndGlyphs" fill="#1c1c1c" font-weight="normal" xml:space="preserve" stroke="#fff" stroke-width="0.22">C</text>
<text x="850.76" y="913.3" font-size="20.2" textLength="54.55" lengthAdjust="spacingAndGlyphs" fill="#1c1c1c" font-weight="normal" xml:space="preserve" stroke="#fff" stroke-width="0.22">Store</text>
<text transform="translate(943.6 958.22) rotate(-90)" x="0" y="0" font-size="20.6" textLength="53.82" lengthAdjust="spacingAndGlyphs" fill="#1c1c1c" stroke="#fff" stroke-width="0.22">Store</text>
<text x="807.69" y="964.5" font-size="10.6" textLength="18.42" lengthAdjust="spacingAndGlyphs" fill="#111" font-weight="normal" xml:space="preserve" stroke="#111" stroke-width="0.08">Up</text>
<text transform="translate(848 1053.57) rotate(-90)" x="0" y="0" font-size="19.2" textLength="43.54" lengthAdjust="spacingAndGlyphs" fill="#1c1c1c" stroke="#fff" stroke-width="0.22">Desk</text>
<text x="869.4" y="1079.4" font-size="20.4" textLength="61.62" lengthAdjust="spacingAndGlyphs" fill="#1c1c1c" font-weight="normal" xml:space="preserve" stroke="#fff" stroke-width="0.22">Home</text>
<text x="869.69" y="1098.8" font-size="20.4" textLength="61.36" lengthAdjust="spacingAndGlyphs" fill="#1c1c1c" font-weight="normal" xml:space="preserve" stroke="#fff" stroke-width="0.22">Office</text>
<text x="856.64" y="1119.9" font-size="20.4" textLength="87.03" lengthAdjust="spacingAndGlyphs" fill="#1c1c1c" font-weight="normal" xml:space="preserve" stroke="#fff" stroke-width="0.22">3.0 x 5.4</text>
<text x="763.09" y="1145.6" font-size="20.4" textLength="54.46" lengthAdjust="spacingAndGlyphs" fill="#1c1c1c" font-weight="normal" xml:space="preserve" stroke="#fff" stroke-width="0.22">Entry</text>
<text x="763.42" y="1224.6" font-size="17.4" textLength="82.01" lengthAdjust="spacingAndGlyphs" fill="#1c1c1c" font-weight="normal" xml:space="preserve" stroke="#fff" stroke-width="0.22">Verandah</text>
<text x="726.55" y="1146.4" font-size="10.6" textLength="17.85" lengthAdjust="spacingAndGlyphs" fill="#111" font-weight="normal" xml:space="preserve" stroke="#111" stroke-width="0.08">Dn</text>
<text x="809.63" y="1250.9" font-size="10.6" textLength="18.19" lengthAdjust="spacingAndGlyphs" fill="#111" font-weight="normal" xml:space="preserve" stroke="#111" stroke-width="0.08">Dn</text>
<text x="728.55" y="1249.5" font-size="17.4" textLength="13.46" lengthAdjust="spacingAndGlyphs" fill="#1c1c1c" font-weight="normal" xml:space="preserve" stroke="#fff" stroke-width="0.22">C</text>
<text x="713.23" y="1277.8" font-size="18.6" textLength="43.44" lengthAdjust="spacingAndGlyphs" fill="#1c1c1c" font-weight="normal" xml:space="preserve" stroke="#fff" stroke-width="0.22">Shelf</text>
<text x="578.08" y="1140" font-size="20.4" textLength="66.43" lengthAdjust="spacingAndGlyphs" fill="#1c1c1c" font-weight="normal" xml:space="preserve" stroke="#fff" stroke-width="0.22">Dining</text>
<text x="568.28" y="1160.5" font-size="20.4" textLength="87.22" lengthAdjust="spacingAndGlyphs" fill="#1c1c1c" font-weight="normal" xml:space="preserve" stroke="#fff" stroke-width="0.22">4.8 x 4.3</text>
<text x="624.35" y="1361.3" font-size="20.4" textLength="62.19" lengthAdjust="spacingAndGlyphs" fill="#1c1c1c" font-weight="normal" xml:space="preserve" stroke="#fff" stroke-width="0.22">Living</text>
<text x="611.99" y="1381.6" font-size="20.4" textLength="87.58" lengthAdjust="spacingAndGlyphs" fill="#1c1c1c" font-weight="normal" xml:space="preserve" stroke="#fff" stroke-width="0.22">5.0 x 5.4</text>
<text transform="translate(567.8 1370.57) rotate(-90)" x="0" y="0" font-size="18.4" textLength="35.48" lengthAdjust="spacingAndGlyphs" fill="#1c1c1c" stroke="#fff" stroke-width="0.22">GFP</text>
<text x="554.89" y="1500.8" font-size="21.2" textLength="179.93" lengthAdjust="spacingAndGlyphs" fill="#181818" font-weight="normal" xml:space="preserve" stroke="#fff" stroke-width="0.12">GROUND FLOOR</text>
<text x="221.2" y="937" font-size="20.4" textLength="114.16" lengthAdjust="spacingAndGlyphs" fill="#1c1c1c" font-weight="normal" xml:space="preserve" stroke="#fff" stroke-width="0.22">Wine Cellar</text>
<text x="279.35" y="960.6" font-size="10.6" textLength="17.85" lengthAdjust="spacingAndGlyphs" fill="#111" font-weight="normal" xml:space="preserve" stroke="#111" stroke-width="0.08">Dn</text>
<text transform="translate(380 1038.03) rotate(-90)" x="0" y="0" font-size="20.2" textLength="54.03" lengthAdjust="spacingAndGlyphs" fill="#1c1c1c" stroke="#fff" stroke-width="0.22">Store</text>
<text x="363.17" y="1125.6" font-size="10.6" textLength="18.75" lengthAdjust="spacingAndGlyphs" fill="#111" font-weight="normal" xml:space="preserve" stroke="#111" stroke-width="0.08">Up</text>
<text x="265.32" y="1320" font-size="20.4" textLength="78.43" lengthAdjust="spacingAndGlyphs" fill="#1c1c1c" font-weight="normal" xml:space="preserve" stroke="#fff" stroke-width="0.22">Garage</text>
<text x="163.02" y="1500.8" font-size="21.2" textLength="119.28" lengthAdjust="spacingAndGlyphs" fill="#181818" font-weight="normal" xml:space="preserve" stroke="#fff" stroke-width="0.12">BASEMENT</text>
<text x="0.05" y="1564.8" font-size="13.5" textLength="1093.59" lengthAdjust="spacingAndGlyphs" fill="#151515" font-weight="normal" xml:space="preserve">Every care has been taken to verify the accuracy of details in this brochure.  All measurements are approximate and prospective purchasers</text>
<text x="170.75" y="1579.8" font-size="13.5" textLength="748.85" lengthAdjust="spacingAndGlyphs" fill="#151515" font-weight="normal" xml:space="preserve">are requested to take such action as is necessary to satisfy themselves of any pertinent matters.</text>
<text x="968.52" y="1595" font-size="13.5" textLength="95.28" lengthAdjust="spacingAndGlyphs" fill="#151515" font-weight="normal" xml:space="preserve">Not to scale</text>
<path d="M738.6 633.5 L754.8 656 L770.6 634.6 L786.8 656.5" fill="none" stroke="#2a2a2a" stroke-width="1.1" stroke-linejoin="miter"/>
<line x1="754.2" y1="648.3" x2="739.2" y2="630" stroke="#2a2a2a" stroke-width="1" stroke-linecap="butt"/>
<polygon points="739.2,630 743.79,632.44 740.7,634.98" fill="#181818"/>
<line x1="772" y1="626.2" x2="757.2" y2="645" stroke="#2a2a2a" stroke-width="1" stroke-linecap="butt"/>
<polygon points="757.2,645 758.6,639.99 761.74,642.47" fill="#181818"/>
<rect x="183.7" y="96.9" width="4.2" height="719.4" fill="#141414"/>
<rect x="183.7" y="96.9" width="427.3" height="4" fill="#141414"/>
<rect x="607" y="96.9" width="4" height="221.9" fill="#141414"/>
<rect x="563.6" y="314.9" width="47.4" height="4" fill="#141414"/>
<rect x="563.6" y="315" width="3.6" height="109.8" fill="#141414"/>
<rect x="472.4" y="421" width="94.8" height="3.8" fill="#141414"/>
<rect x="472.4" y="421" width="3.8" height="208" fill="#141414"/>
<rect x="343" y="625.4" width="133.2" height="3.6" fill="#141414"/>
<rect x="343" y="625.4" width="4" height="190.9" fill="#141414"/>
<rect x="183.7" y="812.4" width="163.3" height="3.9" fill="#141414"/>
<rect x="509.5" y="649.4" width="4.2" height="317.1" fill="#141414"/>
<rect x="509.5" y="997.5" width="4.2" height="240.1" fill="#141414"/>
<rect x="509.5" y="649.4" width="143.5" height="4" fill="#141414"/>
<rect x="509.5" y="1233" width="44.3" height="4.6" fill="#141414"/>
<rect x="549.8" y="1233" width="4" height="231.6" fill="#141414"/>
<rect x="549.8" y="1460.7" width="212.7" height="3.9" fill="#141414"/>
<rect x="758.2" y="1181.6" width="4.2" height="283.1" fill="#141414"/>
<rect x="530.7" y="1320.4" width="23.1" height="5.1" fill="#141414"/>
<rect x="530.7" y="1320.4" width="4.9" height="64.3" fill="#141414"/>
<rect x="530.7" y="1379.7" width="23.1" height="5" fill="#141414"/>
<rect x="787" y="649.4" width="180" height="4" fill="#141414"/>
<rect x="963" y="649.4" width="4" height="564.4" fill="#141414"/>
<rect x="846.2" y="1210" width="120.8" height="3.5" fill="#141414"/>
<rect x="846.2" y="1181.6" width="3.6" height="31.9" fill="#141414"/>
<rect x="826.5" y="1181.6" width="23.3" height="4" fill="#141414"/>
<rect x="759" y="1181.6" width="11.8" height="4" fill="#141414"/>
<rect x="800.6" y="1181.6" width="5.6" height="4" fill="#141414"/>
<rect x="758" y="935.5" width="7.9" height="13.1" fill="#141414"/>
<rect x="158" y="895.5" width="239" height="4" fill="#141414"/>
<rect x="158" y="895.5" width="4.2" height="127.5" fill="#141414"/>
<rect x="158" y="1019.4" width="45.8" height="3.6" fill="#141414"/>
<rect x="199.6" y="1019.4" width="4.2" height="180.1" fill="#141414"/>
<rect x="158" y="1195.7" width="45.8" height="3.8" fill="#141414"/>
<rect x="158" y="1195.7" width="4.2" height="269.3" fill="#141414"/>
<rect x="158" y="1460.5" width="294.8" height="4.5" fill="#141414"/>
<rect x="448.4" y="1199" width="4.4" height="204.6" fill="#141414"/>
<rect x="448.4" y="1435" width="4.4" height="30" fill="#141414"/>
<rect x="393" y="1199" width="59.8" height="3.8" fill="#141414"/>
<rect x="393" y="895.5" width="4" height="307.3" fill="#141414"/>
<rect x="224" y="96.2" width="112" height="5.4" fill="#fff" stroke="#555" stroke-width="0.9"/>
<line x1="224.6" y1="98.9" x2="335.4" y2="98.9" stroke="#c2c2c2" stroke-width="1.7"/>
<line x1="261.5" y1="96.2" x2="261.5" y2="101.6" stroke="#555" stroke-width="1" stroke-linecap="butt" stroke-opacity="0.9"/>
<line x1="300.5" y1="96.2" x2="300.5" y2="101.6" stroke="#555" stroke-width="1" stroke-linecap="butt" stroke-opacity="0.9"/>
<rect x="454.5" y="96.2" width="122.5" height="5.4" fill="#fff" stroke="#555" stroke-width="0.9"/>
<line x1="455.1" y1="98.9" x2="576.4" y2="98.9" stroke="#c2c2c2" stroke-width="1.7"/>
<line x1="494.5" y1="96.2" x2="494.5" y2="101.6" stroke="#555" stroke-width="1" stroke-linecap="butt" stroke-opacity="0.9"/>
<line x1="537.5" y1="96.2" x2="537.5" y2="101.6" stroke="#555" stroke-width="1" stroke-linecap="butt" stroke-opacity="0.9"/>
<rect x="183.1" y="286" width="5.4" height="85" fill="#fff" stroke="#555" stroke-width="0.9"/>
<line x1="185.8" y1="286.6" x2="185.8" y2="370.4" stroke="#c2c2c2" stroke-width="1.7"/>
<line x1="183.1" y1="327.5" x2="188.5" y2="327.5" stroke="#555" stroke-width="1" stroke-linecap="butt" stroke-opacity="0.9"/>
<rect x="183.1" y="435" width="5.4" height="81" fill="#fff" stroke="#555" stroke-width="0.9"/>
<line x1="185.8" y1="435.6" x2="185.8" y2="515.4" stroke="#c2c2c2" stroke-width="1.7"/>
<line x1="183.1" y1="475.5" x2="188.5" y2="475.5" stroke="#555" stroke-width="1" stroke-linecap="butt" stroke-opacity="0.9"/>
<rect x="183.1" y="558" width="5.4" height="28" fill="#fff" stroke="#555" stroke-width="0.9"/>
<line x1="185.8" y1="558.6" x2="185.8" y2="585.4" stroke="#c2c2c2" stroke-width="1.7"/>
<rect x="183.1" y="641" width="5.4" height="29" fill="#fff" stroke="#555" stroke-width="0.9"/>
<line x1="185.8" y1="641.6" x2="185.8" y2="669.4" stroke="#c2c2c2" stroke-width="1.7"/>
<rect x="606.3" y="245" width="5.4" height="29" fill="#fff" stroke="#555" stroke-width="0.9"/>
<line x1="609" y1="245.6" x2="609" y2="273.4" stroke="#c2c2c2" stroke-width="1.7"/>
<rect x="562.7" y="356" width="5.4" height="34" fill="#fff" stroke="#555" stroke-width="0.9"/>
<line x1="565.4" y1="356.6" x2="565.4" y2="389.4" stroke="#c2c2c2" stroke-width="1.7"/>
<rect x="471.6" y="484" width="5.4" height="27" fill="#fff" stroke="#555" stroke-width="0.9"/>
<line x1="474.3" y1="484.6" x2="474.3" y2="510.4" stroke="#c2c2c2" stroke-width="1.7"/>
<rect x="471.6" y="530" width="5.4" height="28" fill="#fff" stroke="#555" stroke-width="0.9"/>
<line x1="474.3" y1="530.6" x2="474.3" y2="557.4" stroke="#c2c2c2" stroke-width="1.7"/>
<rect x="471.6" y="584" width="5.4" height="28.5" fill="#fff" stroke="#555" stroke-width="0.9"/>
<line x1="474.3" y1="584.6" x2="474.3" y2="611.9" stroke="#c2c2c2" stroke-width="1.7"/>
<rect x="366" y="624.5" width="20" height="5.4" fill="#fff" stroke="#555" stroke-width="0.9"/>
<line x1="366.6" y1="627.2" x2="385.4" y2="627.2" stroke="#c2c2c2" stroke-width="1.7"/>
<rect x="445" y="624.5" width="20" height="5.4" fill="#fff" stroke="#555" stroke-width="0.9"/>
<line x1="445.6" y1="627.2" x2="464.4" y2="627.2" stroke="#c2c2c2" stroke-width="1.7"/>
<rect x="342.3" y="674.5" width="5.4" height="28.5" fill="#fff" stroke="#555" stroke-width="0.9"/>
<line x1="345" y1="675.1" x2="345" y2="702.4" stroke="#c2c2c2" stroke-width="1.7"/>
<rect x="342.3" y="759.5" width="5.4" height="29.5" fill="#fff" stroke="#555" stroke-width="0.9"/>
<line x1="345" y1="760.1" x2="345" y2="788.4" stroke="#c2c2c2" stroke-width="1.7"/>
<rect x="215.5" y="811.6" width="92.5" height="5.4" fill="#fff" stroke="#555" stroke-width="0.9"/>
<line x1="216.1" y1="814.3" x2="307.4" y2="814.3" stroke="#c2c2c2" stroke-width="1.7"/>
<rect x="550.2" y="1325.5" width="3.8" height="54.2" fill="#fff"/>
<line x1="553.5" y1="1325" x2="553.5" y2="1380" stroke="#2a2a2a" stroke-width="1" stroke-linecap="butt" stroke-opacity="1"/>
<rect x="548.5" y="1334.5" width="5" height="37" fill="#fff" stroke="#2a2a2a" stroke-width="0.9" rx="0"/>
<rect x="536" y="648.7" width="94" height="5.4" fill="#fff" stroke="#555" stroke-width="0.9"/>
<line x1="536.6" y1="651.4" x2="629.4" y2="651.4" stroke="#c2c2c2" stroke-width="1.7"/>
<line x1="582.5" y1="648.7" x2="582.5" y2="654.1" stroke="#555" stroke-width="1" stroke-linecap="butt" stroke-opacity="0.9"/>
<rect x="508.9" y="809" width="5.4" height="71" fill="#fff" stroke="#555" stroke-width="0.9"/>
<line x1="511.6" y1="809.6" x2="511.6" y2="879.4" stroke="#c2c2c2" stroke-width="1.7"/>
<line x1="508.9" y1="842.5" x2="514.3" y2="842.5" stroke="#555" stroke-width="1" stroke-linecap="butt" stroke-opacity="0.9"/>
<rect x="508.9" y="1010" width="5.2" height="20.2" fill="#fff" stroke="#555" stroke-width="0.9"/>
<line x1="511.5" y1="1010.6" x2="511.5" y2="1029.6" stroke="#c2c2c2" stroke-width="1.7"/>
<rect x="508.9" y="1067.5" width="5.4" height="140" fill="#fff" stroke="#555" stroke-width="0.9"/>
<line x1="511.6" y1="1068.1" x2="511.6" y2="1206.9" stroke="#c2c2c2" stroke-width="1.7"/>
<line x1="508.9" y1="1136.5" x2="514.3" y2="1136.5" stroke="#555" stroke-width="1" stroke-linecap="butt" stroke-opacity="0.9"/>
<rect x="521" y="1232.6" width="21.5" height="5.4" fill="#fff" stroke="#555" stroke-width="0.9"/>
<line x1="521.6" y1="1235.3" x2="541.9" y2="1235.3" stroke="#c2c2c2" stroke-width="1.7"/>
<rect x="563" y="1459.9" width="29.5" height="5.4" fill="#fff" stroke="#555" stroke-width="0.9"/>
<line x1="563.6" y1="1462.6" x2="591.9" y2="1462.6" stroke="#c2c2c2" stroke-width="1.7"/>
<rect x="607" y="1459.9" width="91.8" height="5.4" fill="#fff" stroke="#555" stroke-width="0.9"/>
<line x1="607.6" y1="1462.6" x2="698.2" y2="1462.6" stroke="#c2c2c2" stroke-width="1.7"/>
<rect x="713" y="1459.9" width="29.5" height="5.4" fill="#fff" stroke="#555" stroke-width="0.9"/>
<line x1="713.6" y1="1462.6" x2="741.9" y2="1462.6" stroke="#c2c2c2" stroke-width="1.7"/>
<rect x="757.9" y="1298.8" width="5.4" height="28.7" fill="#fff" stroke="#555" stroke-width="0.9"/>
<line x1="760.6" y1="1299.4" x2="760.6" y2="1326.9" stroke="#c2c2c2" stroke-width="1.7"/>
<rect x="757.9" y="1340" width="5.4" height="28" fill="#fff" stroke="#555" stroke-width="0.9"/>
<line x1="760.6" y1="1340.6" x2="760.6" y2="1367.4" stroke="#c2c2c2" stroke-width="1.7"/>
<rect x="757.9" y="1380.5" width="5.4" height="29" fill="#fff" stroke="#555" stroke-width="0.9"/>
<line x1="760.6" y1="1381.1" x2="760.6" y2="1408.9" stroke="#c2c2c2" stroke-width="1.7"/>
<rect x="830" y="648.7" width="113.8" height="5.4" fill="#fff" stroke="#555" stroke-width="0.9"/>
<line x1="830.6" y1="651.4" x2="943.2" y2="651.4" stroke="#c2c2c2" stroke-width="1.7"/>
<line x1="867.5" y1="648.7" x2="867.5" y2="654.1" stroke="#555" stroke-width="1" stroke-linecap="butt" stroke-opacity="0.9"/>
<line x1="907.5" y1="648.7" x2="907.5" y2="654.1" stroke="#555" stroke-width="1" stroke-linecap="butt" stroke-opacity="0.9"/>
<rect x="962.3" y="668.8" width="5.4" height="72.5" fill="#fff" stroke="#555" stroke-width="0.9"/>
<line x1="965" y1="669.4" x2="965" y2="740.7" stroke="#c2c2c2" stroke-width="1.7"/>
<line x1="962.3" y1="705.5" x2="967.7" y2="705.5" stroke="#555" stroke-width="1" stroke-linecap="butt" stroke-opacity="0.9"/>
<rect x="962.3" y="772.5" width="5.4" height="87.8" fill="#fff" stroke="#555" stroke-width="0.9"/>
<line x1="965" y1="773.1" x2="965" y2="859.7" stroke="#c2c2c2" stroke-width="1.7"/>
<line x1="962.3" y1="816.5" x2="967.7" y2="816.5" stroke="#555" stroke-width="1" stroke-linecap="butt" stroke-opacity="0.9"/>
<rect x="961.6" y="882.2" width="6.4" height="95.8" fill="#fff" stroke="#555" stroke-width="0.9"/>
<line x1="964.5" y1="883" x2="964.5" y2="977.5" stroke="#e2e2e2" stroke-width="1" stroke-linecap="butt" stroke-opacity="1"/>
<rect x="962.3" y="1018" width="5.4" height="70.8" fill="#fff" stroke="#555" stroke-width="0.9"/>
<line x1="965" y1="1018.6" x2="965" y2="1088.2" stroke="#c2c2c2" stroke-width="1.7"/>
<line x1="962.3" y1="1053.5" x2="967.7" y2="1053.5" stroke="#555" stroke-width="1" stroke-linecap="butt" stroke-opacity="0.9"/>
<rect x="962.3" y="1115" width="5.4" height="71.3" fill="#fff" stroke="#555" stroke-width="0.9"/>
<line x1="965" y1="1115.6" x2="965" y2="1185.7" stroke="#c2c2c2" stroke-width="1.7"/>
<line x1="962.3" y1="1150.5" x2="967.7" y2="1150.5" stroke="#555" stroke-width="1" stroke-linecap="butt" stroke-opacity="0.9"/>
<rect x="876.3" y="1209.2" width="57.5" height="5.4" fill="#fff" stroke="#555" stroke-width="0.9"/>
<line x1="876.9" y1="1211.9" x2="933.2" y2="1211.9" stroke="#c2c2c2" stroke-width="1.7"/>
<rect x="806" y="1180.9" width="20.7" height="5.4" fill="#fff" stroke="#555" stroke-width="0.9"/>
<line x1="806.6" y1="1183.6" x2="826.1" y2="1183.6" stroke="#c2c2c2" stroke-width="1.7"/>
<rect x="199" y="1067.5" width="5.4" height="28.5" fill="#fff" stroke="#555" stroke-width="0.9"/>
<line x1="201.7" y1="1068.1" x2="201.7" y2="1095.4" stroke="#c2c2c2" stroke-width="1.7"/>
<rect x="199" y="1154.5" width="5.4" height="29.3" fill="#fff" stroke="#555" stroke-width="0.9"/>
<line x1="201.7" y1="1155.1" x2="201.7" y2="1183.2" stroke="#c2c2c2" stroke-width="1.7"/>
<rect x="166" y="1460" width="29" height="5.4" fill="#fff" stroke="#555" stroke-width="0.9"/>
<line x1="166.6" y1="1462.7" x2="194.4" y2="1462.7" stroke="#c2c2c2" stroke-width="1.7"/>
<rect x="218" y="1459" width="194.7" height="7.4" fill="#fff" stroke="#666" stroke-width="0.9"/>
</g>
</svg>
</body></html>
